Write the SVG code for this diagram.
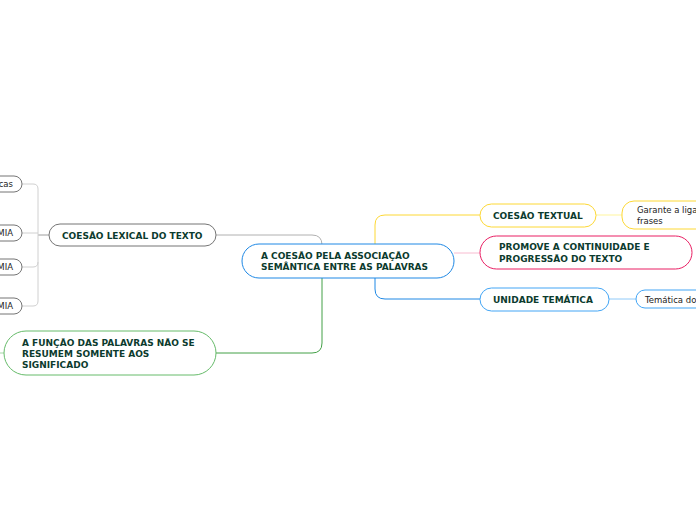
<svg xmlns="http://www.w3.org/2000/svg" width="696" height="520" viewBox="0 0 696 520">
<style>
.b{font-family:"DejaVu Sans",Verdana,sans-serif;font-weight:bold;font-size:9px;fill:#0c3b2e}
.r{font-family:"DejaVu Sans",Verdana,sans-serif;font-size:8.5px;fill:#222}
rect{fill:#fff;stroke-width:1}
.c{fill:none;stroke-width:1}
</style>
<rect x="0" y="0" width="696" height="520" fill="#fff" stroke="none"/>
<g id="connectors">
<path class="c" stroke="#b0b0b0" d="M216,235 H312 Q322,235 322,245"/>
<path class="c" stroke="#43a047" stroke-width="2" d="M322,278 V343 Q322,353 312,353 H216"/>
<path class="c" stroke="#fdd835" stroke-width="2" d="M375,245 V225 Q375,215 385,215 H480"/>
<path class="c" stroke="#1e88e5" stroke-width="2" d="M375,278 V289 Q375,299 385,299 H480"/>
<path class="c" stroke="#f8bbd0" d="M454,253 H480"/>
<path class="c" stroke="#fff59d" d="M596,215 H622"/>
<path class="c" stroke="#90caf9" d="M609,299 H636"/>
<path class="c" stroke="#9e9e9e" d="M49,235 H38"/>
<path class="c" stroke="#d0d0d0" d="M22,184 H33 Q38,184 38,189 V301 Q38,306 33,306 H22 M22,233 H38 M22,267 H33 Q38,267 38,262"/>
<path class="c" stroke="#a5d6a7" d="M0,353 H4"/>
</g>
<g id="central">
<rect x="242" y="244" width="212" height="34" rx="17" stroke="#1e88e5"/>
<text class="b" x="261" y="259">A COESÃO PELA ASSOCIAÇÃO</text>
<text class="b" x="261" y="270">SEMÂNTICA ENTRE AS PALAVRAS</text>
</g>
<g id="lexical">
<rect x="49" y="224" width="167" height="22" rx="11" stroke="#757575"/>
<text class="b" x="62" y="239">COESÃO LEXICAL DO TEXTO</text>
</g>
<g id="leaf1">
<rect x="-30" y="176" width="52" height="16" rx="8" stroke="#757575"/>
<text class="r" x="13" y="187" text-anchor="end">cas</text>
</g>
<g id="leaf2">
<rect x="-30" y="225" width="52" height="16" rx="8" stroke="#757575"/>
<text class="r" x="13" y="236" text-anchor="end">MIA</text>
</g>
<g id="leaf3">
<rect x="-30" y="259" width="52" height="16" rx="8" stroke="#757575"/>
<text class="r" x="13" y="270" text-anchor="end">MIA</text>
</g>
<g id="leaf4">
<rect x="-30" y="298" width="52" height="16" rx="8" stroke="#757575"/>
<text class="r" x="13" y="309" text-anchor="end">MIA</text>
</g>
<g id="funcao">
<rect x="4" y="331" width="212" height="44" rx="22" stroke="#66bb6a"/>
<text class="b" x="22" y="346">A FUNÇÃO DAS PALAVRAS NÃO SE</text>
<text class="b" x="22" y="357">RESUMEM SOMENTE AOS</text>
<text class="b" x="22" y="368">SIGNIFICADO</text>
</g>
<g id="coesao-textual">
<rect x="480" y="204" width="116" height="23" rx="11.5" stroke="#fdd835"/>
<text class="b" x="493" y="219">COESÃO TEXTUAL</text>
</g>
<g id="promove">
<rect x="480" y="236" width="212" height="33" rx="16.5" stroke="#e91e63"/>
<text class="b" x="499" y="250">PROMOVE A CONTINUIDADE E</text>
<text class="b" x="499" y="262">PROGRESSÃO DO TEXTO</text>
</g>
<g id="unidade">
<rect x="480" y="288" width="129" height="23" rx="11.5" stroke="#42a5f5"/>
<text class="b" x="493" y="303">UNIDADE TEMÁTICA</text>
</g>
<g id="garante">
<rect x="622" y="201" width="110" height="28" rx="12" stroke="#fdd835"/>
<text class="r" x="637" y="213">Garante a liga</text>
<text class="r" x="637" y="224">frases</text>
</g>
<g id="tematica">
<rect x="636" y="290" width="90" height="18" rx="9" stroke="#42a5f5"/>
<text class="r" x="645" y="303">Temática do</text>
</g>
</svg>
